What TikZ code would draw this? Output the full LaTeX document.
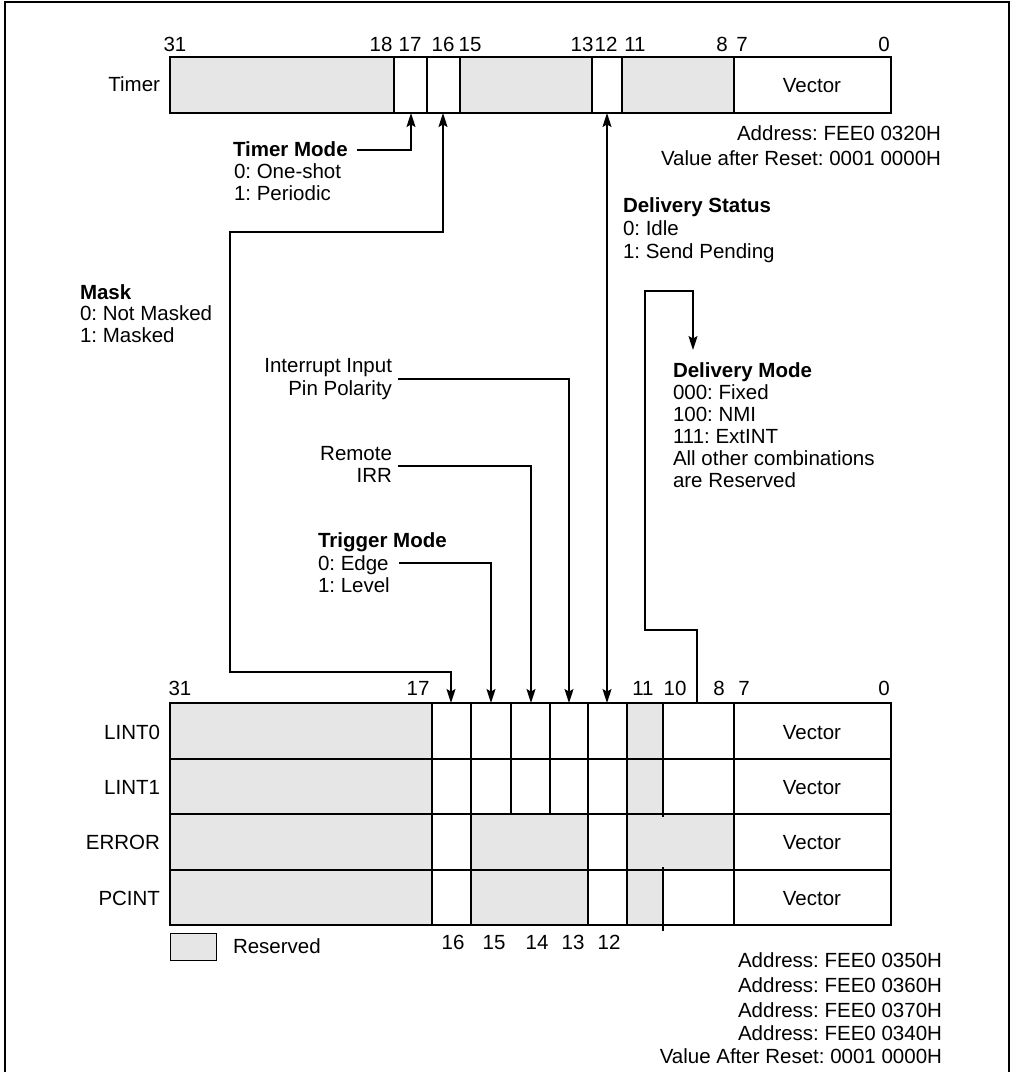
\documentclass[tikz,border=0pt]{standalone}
\usepackage{fontspec}
\setmainfont{Liberation Sans}
\usetikzlibrary{arrows.meta}
\definecolor{resv}{HTML}{E6E6E6}
\newcommand{\lblfont}{\fontsize{20.5}{22}\selectfont\frenchspacing}
\frenchspacing
\begin{document}
\begin{tikzpicture}[x=1pt,y=-1pt,
  txt/.style={font=\lblfont, inner sep=0pt, outer sep=0pt},
  btxt/.style={font=\lblfont\bfseries, inner sep=0pt, outer sep=0pt},
  regframe/.style={line width=2.2pt},
  cellline/.style={line width=1.1pt},
  resfill/.style={fill=resv, draw=none},
  conn/.style={line width=1.3pt},
  >={Stealth[length=14pt,width=9pt,inset=2.5pt]}]
\useasboundingbox (0,0) rectangle (1012,1072);
% outer frame
\draw[line width=2.5pt] (5,1072) -- (5,2) -- (1009,2) -- (1009,1072);

% ---------------- Timer register ----------------
\fill[resv] (170,57) rectangle (394,113);
\fill[resv] (460,57) rectangle (592,113);
\fill[resv] (622,57) rectangle (734,113);
\foreach \x in {394,427,460,592,622,734} \draw[cellline] (\x,57) -- (\x,113);
\draw[regframe] (170,57) rectangle (891,113);
\foreach \n/\x in {31/175,18/381,17/410,16/443,15/470,13/582,12/606,11/635,8/722,7/742,0/884}
  \node[txt,anchor=base] (tn\n) at (\x,51) {\n};
\node[txt,anchor=base east] (timer) at (160,91) {Timer};
\node[txt,anchor=base] (tvec) at (812,92) {Vector};
\node[txt,anchor=base east] (taddr) at (941,140) {Address: FEE0 0320H};
\node[txt,anchor=base east] (treset) at (941,165) {Value after Reset: 0001 0000H};

% ---------------- LVT registers ----------------
\fill[resv] (170,703) rectangle (432,925);
\fill[resv] (627,703) rectangle (663,814);
\fill[resv] (471,814) rectangle (588,925);
\fill[resv] (627,814) rectangle (734,870);
\fill[resv] (627,870) rectangle (663,925);
\foreach \y in {759,814,870} \draw[cellline] (170,\y) -- (891,\y);
\foreach \x in {432,471,588,627,734} \draw[cellline] (\x,703) -- (\x,925);
\foreach \x in {511,550} \draw[cellline] (\x,703) -- (\x,814);
\draw[cellline] (663,703) -- (663,817);
\draw[cellline] (663,867) -- (663,931);
\draw[regframe] (170,703) rectangle (891,925);
\foreach \n/\x in {31/180,17/418,11/643,10/675,8/719,7/744,0/884}
  \node[txt,anchor=base] (bn\n) at (\x,695) {\n};
\foreach \n/\x in {16/453,15/494,14/537,13/573,12/609}
  \node[txt,anchor=base] (bl\n) at (\x,949) {\n};
\foreach \r/\y in {LINT0/739,LINT1/794,ERROR/849,PCINT/905}{
  \node[txt,anchor=base east] (lab\r) at (160,\y) {\r};
  \node[txt,anchor=base] (vec\r) at (812,\y) {Vector};
}
% legend
\node[draw, line width=1.1pt, fill=resv, minimum width=46pt, minimum height=27pt, inner sep=0pt, anchor=north west] (legbox) at (170,933) {};
\node[txt,anchor=base west] (legtxt) at (233,953) {Reserved};
\foreach \t/\y [count=\i] in {Address: FEE0 0350H/967,Address: FEE0 0360H/992,Address: FEE0 0370H/1017,Address: FEE0 0340H/1040,Value After Reset: 0001 0000H/1063}
  \node[txt,anchor=base east] (baddr\i) at (942,\y) {\t};

% ---------------- field labels ----------------
\node[btxt,anchor=base west] (tmode) at (233,156) {Timer Mode};
\node[txt,anchor=base west] (tmode0) at (234,178) {0: One-shot};
\node[txt,anchor=base west] (tmode1) at (234,200) {1: Periodic};

\node[btxt,anchor=base west] (mask) at (80,299) {Mask};
\node[txt,anchor=base west] (mask0) at (80,320) {0: Not Masked};
\node[txt,anchor=base west] (mask1) at (80,342) {1: Masked};

\node[btxt,anchor=base west] (dstat) at (623,212) {Delivery Status};
\node[txt,anchor=base west] (dstat0) at (623,235) {0: Idle};
\node[txt,anchor=base west] (dstat1) at (623,258) {1: Send Pending};

\node[btxt,anchor=base west] (dmode) at (673,377) {Delivery Mode};
\node[txt,anchor=base west] (dmode0) at (673,399) {000: Fixed};
\node[txt,anchor=base west] (dmode1) at (673,421) {100: NMI};
\node[txt,anchor=base west] (dmode2) at (673,443) {111: ExtINT};
\node[txt,anchor=base west] (dmode3) at (673,465) {All other combinations};
\node[txt,anchor=base west] (dmode4) at (673,487) {are Reserved};

\node[txt,anchor=base east] (ipp0) at (392,372) {Interrupt Input};
\node[txt,anchor=base east] (ipp1) at (392,395) {Pin Polarity};

\node[txt,anchor=base east] (rirr0) at (392,460) {Remote};
\node[txt,anchor=base east] (rirr1) at (392,482) {IRR};

\node[btxt,anchor=base west] (trig) at (318,547) {Trigger Mode};
\node[txt,anchor=base west] (trig0) at (318,570) {0: Edge};
\node[txt,anchor=base west] (trig1) at (318,592) {1: Level};

% ---------------- connector points ----------------
\coordinate (t17) at (411,113);
\coordinate (t16) at (443,113);
\coordinate (t12) at (607,113);
\coordinate (b16) at (451,703);
\coordinate (b15) at (491,703);
\coordinate (b14) at (531,703);
\coordinate (b13) at (569,703);
\coordinate (b12) at (607,703);
\coordinate (b10) at (697,703);
\coordinate (tmS) at (357,150);
\coordinate (mA) at (230,232);
\coordinate (mB) at (230,672);
\coordinate (trS) at (399,563);
\coordinate (rmS) at (398,466);
\coordinate (ipS) at (398,379);
\coordinate (dmA) at (645,630);
\coordinate (dmB) at (645,291);
\coordinate (dmT) at (693,350);

% ---------------- connectors ----------------
\draw[conn,->] (tmS) -| (t17);
\draw[conn,<->] (t16) |- (mA) -- (mB) -| (b16);
\draw[conn,->] (trS) -| (b15);
\draw[conn,->] (rmS) -| (b14);
\draw[conn,->] (ipS) -| (b13);
\draw[conn,<->] (t12) -- (b12);
\draw[conn,->] (b10) |- (dmA) -- (dmB) -| (dmT);
\end{tikzpicture}
\end{document}
